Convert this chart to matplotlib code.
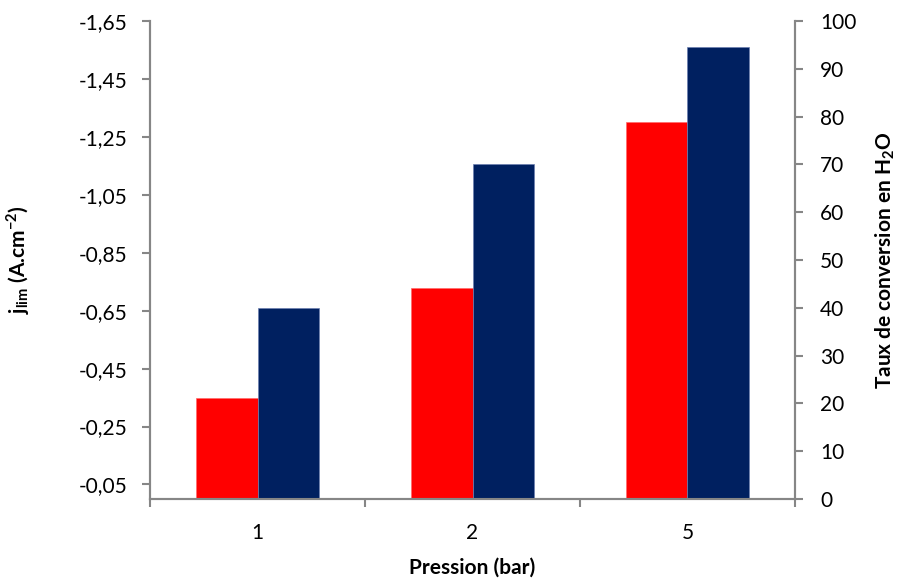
import numpy as np
import matplotlib.pyplot as plt
from matplotlib.ticker import FixedLocator

plt.rcParams['font.family'] = ['Lato', 'DejaVu Sans']
plt.rcParams['mathtext.fontset'] = 'custom'
plt.rcParams['mathtext.rm'] = 'Lato'
plt.rcParams['mathtext.bf'] = 'Lato:bold'

# données
pressions = ['1', '2', '5']
j_lim = [-0.35, -0.73, -1.30]        # A.cm-2 (axe gauche)
conversion = [40, 70, 94.5]           # % H2O (axe droit)
left_ticks = [-0.05, -0.25, -0.45, -0.65, -0.85, -1.05, -1.25, -1.45, -1.65]
right_ticks = [0, 10, 20, 30, 40, 50, 60, 70, 80, 90, 100]

gris = '#868686'
w = 0.288
x = np.arange(len(pressions))

fig = plt.figure(figsize=(8.99, 5.79), dpi=100)
ax = fig.add_axes([0.1669, 0.1382, 0.8843 - 0.1669, 0.9637 - 0.1382])
ax2 = ax.twinx()

ax.bar(x - w/2, j_lim, width=w, color='#FF0000', edgecolor='#ff6a6a', linewidth=0.5)
ax2.bar(x + w/2, conversion, width=w, color='#002060', edgecolor='#6b7fb0', linewidth=0.5)

ax.set_xlim(-0.5, 2.5)
ax.set_ylim(0, -1.65)
ax2.set_ylim(0, 100)

ax.yaxis.set_major_locator(FixedLocator(left_ticks))
ax.set_yticklabels([('%.2f' % v).replace('.', ',') for v in left_ticks])
ax2.set_yticks(right_ticks)

# ticks de l'axe x : marques entre catégories, étiquettes au centre
ax.set_xticks([-0.5, 0.5, 1.5, 2.5])
ax.set_xticklabels([])
ax.set_xticks(x, minor=True)
ax.set_xticklabels(pressions, minor=True)
ax.tick_params(axis='x', which='minor', length=0, pad=17, labelsize=15)
ax.tick_params(axis='x', which='major', length=6, color=gris, width=1.5, direction='out')

for a in (ax, ax2):
    a.spines['top'].set_visible(False)
    for s in ('left', 'right', 'bottom'):
        a.spines[s].set_color(gris)
        a.spines[s].set_linewidth(1.5)
ax.tick_params(axis='y', length=6, color=gris, width=1.5, labelsize=15, pad=10)
ax2.tick_params(axis='y', length=6, color=gris, width=1.5, labelsize=15, pad=12)

ax.set_xlabel('Pression (bar)', fontsize=15, fontweight='bold', labelpad=11)
ax.set_ylabel(r'$\mathbf{j_{lim}}$ (A.cm$^{\mathbf{-2}}$)', fontsize=15, fontweight='bold', labelpad=34)
ax2.set_ylabel(r'Taux de conversion en H$_{\mathbf{2}}$O', fontsize=15, fontweight='bold', labelpad=12)

fig.savefig('out.png', dpi=100)
